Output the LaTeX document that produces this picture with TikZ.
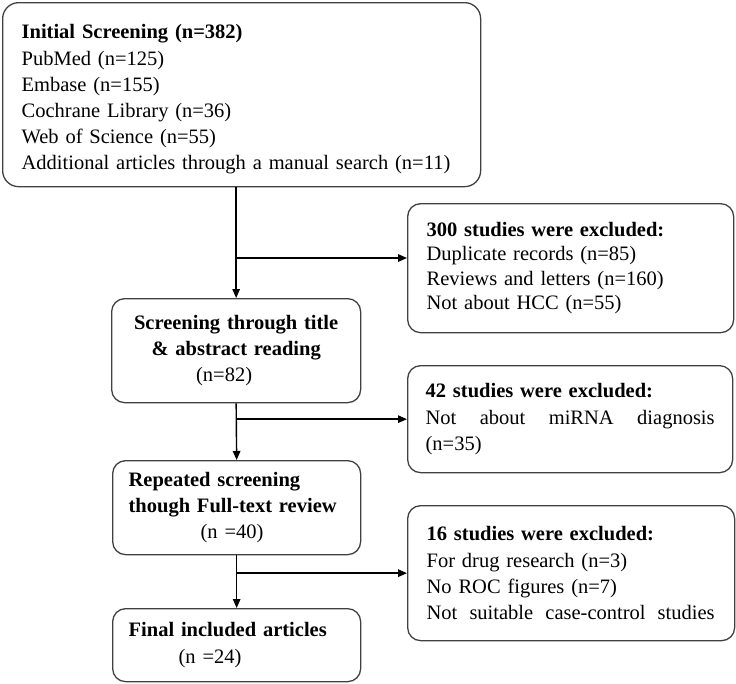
\documentclass[tikz,border=0pt]{standalone}
\usepackage{fontspec}
\setmainfont{Liberation Serif}
\usepackage{tikz}
\usetikzlibrary{arrows.meta,calc}
\tikzset{
    stagebox/.style={draw=black!75, line width=1.3pt, rounded corners=13pt, anchor=north west, inner ysep=0pt,
        font=\fontsize{20.5}{26.2}\selectfont},
    boxsize/.style n args={3}{minimum width=#1pt, minimum height=#2pt, text width=#3pt},
    flow/.style={line width=1.4pt, black, -{Triangle[length=9pt,width=7.5pt]}}
}
\newcommand{\spreadline}[2]{\makebox[#1pt][l]{#2}}

\begin{document}
\begin{tikzpicture}[x=1pt,y=-1pt]
            \useasboundingbox (0,0) rectangle (736,683);

            \node[stagebox, boxsize={478}{184}{440}, inner xsep=19pt, align=left, rounded corners=16pt] (initial) at (2,2)
                {\rule{0pt}{24pt}\textbf{Initial Screening (n=382)}\\PubMed (n=125)\\Embase (n=155)\\Cochrane Library (n=36)\\Web of Science (n=55)\\Additional articles through a manual search (n=11)};
            \node[stagebox, boxsize={326}{129}{288}, inner xsep=19pt, align=left, font=\fontsize{20.5}{24.5}\selectfont] (excludedA) at (407,203)
                {\textbf{300 studies were excluded:}\\Duplicate records (n=85)\\Reviews and letters (n=160)\\Not about HCC (n=55)};
            \node[stagebox, boxsize={249}{104}{215}, inner xsep=17pt, align=center] (titlescreen) at (111,298)
                {\textbf{Screening through title}\\\textbf{\& abstract reading}\\\hspace*{-24pt}(n=82)};
            \node[stagebox, boxsize={325}{107}{289}, inner xsep=18pt, align=left] (excludedB) at (407,365)
                {\textbf{42 studies were excluded:}\\\spreadline{289}{Not\hfill about\hfill miRNA\hfill diagnosis}\\(n=35)};
            \node[stagebox, boxsize={248}{94}{216}, inner xsep=16pt, align=left] (fulltext) at (112,460)
                {\textbf{Repeated screening}\\\textbf{though Full-text review}\\\hspace*{72pt}(n =40)};
            \node[stagebox, boxsize={327}{135}{289}, inner xsep=18pt, align=left] (excludedC) at (407,505)
                {\textbf{16 studies were excluded:}\\For drug research (n=3)\\No ROC figures (n=7)\\\spreadline{288}{Not\hfill suitable\hfill case-control\hfill studies}};
            \node[stagebox, boxsize={248}{73}{216}, inner xsep=16pt, align=left] (final) at (112,608)
                {\textbf{Final included articles}\\\hspace*{50pt}(n =24)};

            \coordinate (branchA) at (237,258);
            \draw[flow] (initial.south -| titlescreen.north) -- (titlescreen.north);
            \draw[flow] (branchA) -- (branchA -| excludedA.west);
            \draw[flow] (titlescreen.south) -- (fulltext.north);
            \draw[flow] (titlescreen.south |- excludedB.west) -- (excludedB.west);
            \draw[flow] (fulltext.south) -- (final.north);
            \draw[flow] (fulltext.south |- excludedC.west) -- (excludedC.west);

        \end{tikzpicture}
\end{document}
